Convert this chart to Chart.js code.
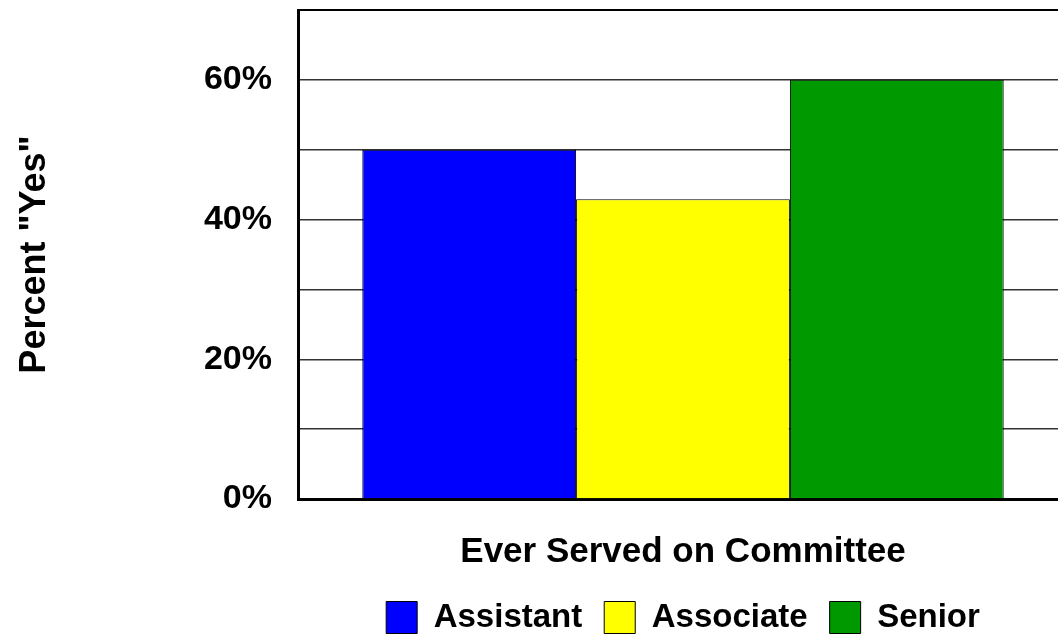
<!DOCTYPE html>
<html>
<head>
<meta charset="utf-8">
<script src="https://cdn.jsdelivr.net/npm/chart.js@4.4.0/dist/chart.umd.min.js"></script>
<style>
  html, body { margin: 0; padding: 0; background: #fff; overflow: hidden; }
  #wrap { width: 1058px; height: 636px; overflow: hidden; }
</style>
</head>
<body>
<div id="wrap"><canvas id="barChart" width="1070" height="636"></canvas></div>
<script>
const categories = ['Ever Served on Committee'];
const assistant = [50];
const associate = [42.9];
const senior = [60];
const yTicks = [0, 20, 40, 60];

const font = 'Liberation Sans, Arial, sans-serif';
const ctx = document.getElementById('barChart');

new Chart(ctx, {
    type: 'bar',
    data: {
        labels: categories,
        datasets: [{
            label: 'Assistant',
            data: assistant,
            backgroundColor: '#0000ff',
            borderColor: '#000',
            borderWidth: 1
        },
        {
            label: 'Associate',
            data: associate,
            backgroundColor: '#ffff00',
            borderColor: '#000',
            borderWidth: 1
        },
        {
            label: 'Senior',
            data: senior,
            backgroundColor: '#009900',
            borderColor: '#000',
            borderWidth: 1
        }]
    },
    options: {
        responsive: false,
        animation: false,
        categoryPercentage: 0.833,
        barPercentage: 1,
        layout: {
            padding: { top: 10, right: 2, left: 0, bottom: -8 }
        },
        plugins: {
            tooltip: { enabled: false },
            legend: {
                position: 'bottom',
                fullSize: false,
                labels: {
                    font: { family: font, size: 33, weight: 'bold' },
                    color: '#000',
                    boxWidth: 31,
                    boxHeight: 32,
                    padding: 22
                }
            }
        },
        scales: {
            x: {
                afterFit: (scale) => { scale.height = 80; },
                grid: { display: false, drawTicks: false },
                border: { display: true, color: '#000', width: 3 },
                ticks: {
                    font: { family: font, size: 35, weight: 'bold' },
                    color: '#000',
                    padding: 32
                }
            },
            y: {
                min: 0,
                max: 70,
                afterFit: (scale) => {
                    scale.width = 298;
                    scale.paddingTop = 0;
                    scale.paddingBottom = 0;
                },
                grid: {
                    drawTicks: false,
                    color: (c) => c.tick && c.tick.value === 70 ? '#000' : '#333',
                    lineWidth: (c) => c.tick && c.tick.value === 70 ? 2 : 1.5
                },
                border: { display: true, color: '#000', width: 3 },
                ticks: {
                    stepSize: 10,
                    padding: 26,
                    font: { family: font, size: 34, weight: 'bold' },
                    color: '#000',
                    callback: (v) => yTicks.includes(v) ? v + '%' : ''
                },
                title: {
                    display: true,
                    text: 'Percent "Yes"',
                    color: '#000',
                    font: { family: font, size: 36, weight: 'bold' },
                    padding: { top: 13, bottom: 0 }
                }
            }
        }
    }
});
</script>
</body>
</html>
